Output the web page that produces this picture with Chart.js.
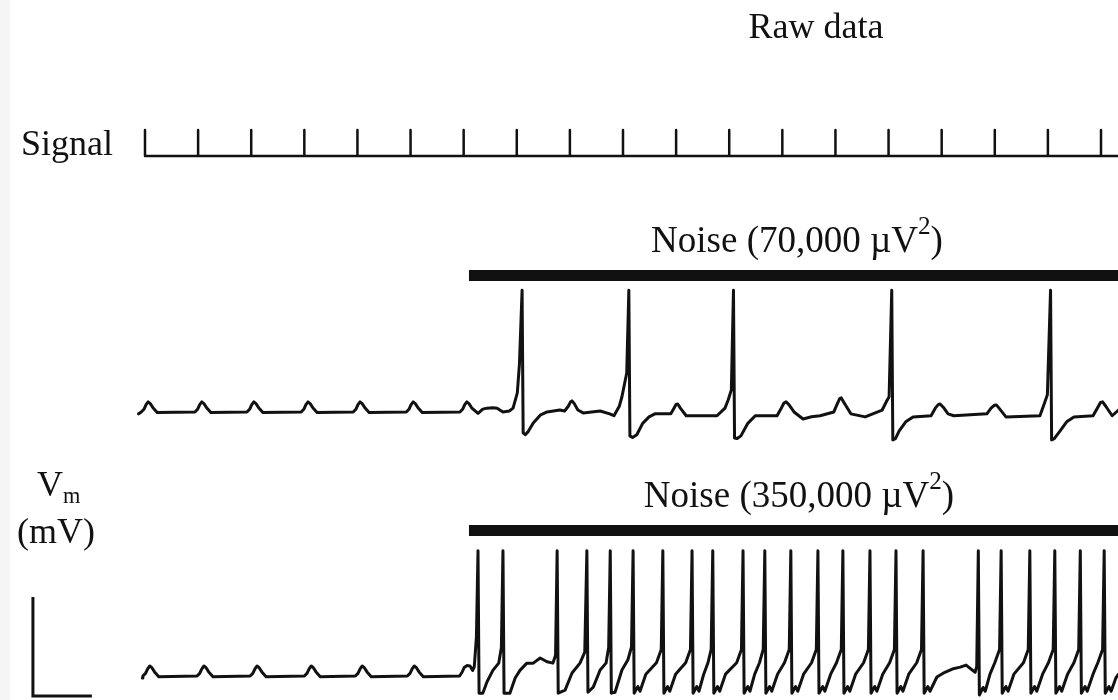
<!DOCTYPE html>
<html>
<head>
<meta charset="utf-8">
<script src="https://cdn.jsdelivr.net/npm/chart.js@4.4.1/dist/chart.umd.min.js"></script>
<style>
  html, body { margin: 0; padding: 0; background: #fff; overflow: hidden; }
  #wrap { position: relative; width: 1118px; height: 700px; }
  #strip { position: absolute; left: 0; top: 0; width: 10px; height: 700px; background: #f5f5f5; }
  canvas { position: absolute; left: 0; top: 0; }
  .lbl { position: absolute; font-family: "Liberation Serif", "DejaVu Serif", serif; font-size: 36px;
         line-height: 36px; color: #111; white-space: nowrap; }
  .lbl sup { font-size: 0.68em; line-height: 0; vertical-align: 0.7em; }
  .lbl sub { font-size: 0.62em; line-height: 0; vertical-align: -0.3em; }
  .ctr { transform: translateX(-50%); }
  .big { font-size: 37px; }
</style>
</head>
<body>
<div id="wrap">
  <div id="strip"></div>
  <canvas id="myChart" width="1118" height="700"></canvas>
  <div class="lbl ctr" style="left:816px; top:8px;">Raw data</div>
  <div class="lbl" style="left:21px; top:125px;">Signal</div>
  <div class="lbl ctr big" style="left:797px; top:222px;">Noise (70,000 µV<sup>2</sup>)</div>
  <div class="lbl ctr big" style="left:799px; top:477px;">Noise (350,000 µV<sup>2</sup>)</div>
  <div class="lbl" style="left:37px; top:466px;">V<sub>m</sub></div>
  <div class="lbl" style="left:17px; top:513px;">(mV)</div>
</div>
<script>
// time axis in ms, voltage in mV
var signalPulses = [0, 100, 200, 300, 400, 500, 600, 700, 800, 900, 1000, 1100, 1200, 1300, 1400, 1500, 1600, 1700, 1800];
var noiseStart = 610;
var noiseEnd = 1833;

// Vm trace, noise 70,000 uV^2  [t, Vm]
var trace70 = [
  [-12,-66],
  [-7,-65],[-2,-63.6],[2,-61.2],[6,-59.7],[10,-60.6],[15,-62.8],[23,-65.3],
  [94,-65],[99,-63.6],[103,-61.2],[107,-59.7],[111,-60.6],[116,-62.8],[124,-65.3],
  [192,-65],[197,-63.6],[201,-61.2],[205,-59.7],[209,-60.6],[214,-62.8],[222,-65.3],
  [294,-65],[299,-63.6],[303,-61.2],[307,-59.7],[311,-60.6],[316,-62.8],[324,-65.3],
  [392,-65],[397,-63.6],[401,-61.2],[405,-59.7],[409,-60.6],[414,-62.8],[422,-65.3],
  [492,-65],[497,-63.6],[501,-61.2],[505,-59.7],[509,-60.6],[514,-62.8],[522,-65.3],
  [593,-65],[598,-63.6],[602,-61.2],[606,-59.7],[610,-60.6],[615,-62.8],[627,-65.8],
  [636,-63.5],[644,-63],[655,-62.8],[663,-63],[674,-65],[686,-64.5],[693,-63],[698,-58],[701,-55],[705,-40],
  [710,-1],[712,-76],[716,-77],[721,-75.5],[731,-70.8],[745,-66.5],[757,-65],[781,-64],
  [790,-64.5],[797,-62],[801,-59.8],[804,-59.2],[808,-60.5],[815,-64],[825,-65.5],[857,-64.5],[875,-66],[883,-67],[893,-62],[898,-57],[907,-44.5],
  [911,-1],[913,-77.6],[918,-78.5],[926,-77],[937,-71],[949,-67.6],[960,-66],[990,-66],[996,-63],[1000,-61],[1003,-60.8],[1008,-63],[1019,-67],
  [1077,-67],[1092,-63],[1098,-58.7],[1104,-53.4],
  [1108,-1],[1110,-78.7],[1115,-79],[1122,-77.6],[1135,-71],[1149,-67],[1190,-67],[1198,-63],[1203,-60.3],[1207,-59.7],[1212,-61],[1222,-65],
  [1239,-68.7],[1255,-67.5],[1271,-67],[1297,-65],[1303,-61],[1308,-58],[1311,-57.6],[1316,-60],[1329,-66],[1356,-67.6],[1388,-64],[1397,-59],[1401,-57.1],
  [1406,-1],[1408,-79.7],[1413,-79],[1420,-75],[1433,-70],[1446,-67.6],[1480,-67],[1488,-63],[1494,-61],[1497,-60.8],[1503,-62.5],[1512,-66],
  [1523,-67],[1585,-66],[1593,-63],[1599,-61.5],[1603,-61.3],[1608,-63],[1621,-67.6],[1685,-67],[1694,-60],[1699,-56],
  [1705,-1],[1707,-79.7],[1712,-79],[1723,-75],[1736,-70],[1749,-67.6],[1785,-67],[1793,-63],[1799,-60],[1803,-59.7],[1809,-62],[1821,-67],[1833,-64]
];

// Vm trace, noise 350,000 uV^2  [t, Vm]
var trace350 = [
  [-5,-66],
  [-4,-65],[1,-63.6],[5,-61.2],[9,-59.7],[13,-60.6],[18,-62.8],[26,-65.3],
  [98,-65],[103,-63.6],[107,-61.2],[111,-59.7],[115,-60.6],[120,-62.8],[128,-65.3],
  [198,-65],[203,-63.6],[207,-61.2],[211,-59.7],[215,-60.6],[220,-62.8],[228,-65.3],
  [300,-65],[305,-63.6],[309,-61.2],[313,-59.7],[317,-60.6],[322,-62.8],[330,-65.3],
  [396,-65],[401,-63.6],[405,-61.2],[409,-59.7],[413,-60.6],[418,-62.8],[426,-65.3],
  [494,-65],[499,-63.6],[503,-61.2],[507,-59.7],[511,-60.6],[516,-62.8],[524,-65.3],
  [592,-65],[597,-63],[601,-60.5],[606,-59.5],[612,-59.7],[617,-62],[620,-60],[624,-44.5],
  [627,1],[629,-74],[636,-74],[644,-68],[655,-62],[666,-58.2],[671,-50],
  [674,1],[676,-74],[687,-74],[697,-66],[706,-62],[719,-58.2],[731,-58.2],[744,-55.5],[757,-57.5],[768,-58.2],[773,-54],
  [776,1],[778,-74],[791,-72.4],[804,-63.4],[819,-58.2],[828,-52.4],
  [832,1],[834,-73.5],[844,-70.8],[857,-61.8],[868,-58.2],[873,-50],
  [876,1],[878,-74],[885,-73.5],[898,-61.8],[909,-56.6],[916,-49.7],
  [919,1],[921,-74],[928,-70.5],[932,-73],[943,-64],[963,-58],[972,-51],
  [975,1],[977,-74],[984,-70.5],[988,-73],[999,-64],[1018,-58],[1027,-51],
  [1030,1],[1032,-74],[1039,-70.5],[1043,-73],[1052,-64],[1060,-58],[1066,-51],
  [1069,1],[1071,-74],[1078,-70.5],[1082,-73],[1093,-64],[1114,-58],[1123,-51],
  [1126,1],[1128,-74],[1135,-70.5],[1139,-73],[1148,-64],[1157,-58],[1164,-51],
  [1167,1],[1169,-74],[1176,-70.5],[1180,-73],[1191,-64],[1204,-58],[1213,-51],
  [1216,1],[1218,-74],[1225,-70.5],[1229,-73],[1240,-64],[1255,-58],[1264,-51],
  [1267,1],[1269,-74],[1276,-70.5],[1280,-73],[1291,-64],[1302,-58],[1311,-51],
  [1314,1],[1316,-74],[1323,-70.5],[1327,-73],[1338,-64],[1353,-58],[1362,-51],
  [1365,1],[1367,-74],[1374,-70.5],[1378,-73],[1389,-64],[1402,-58],[1411,-51],
  [1414,1],[1416,-74],[1423,-70.5],[1427,-73],[1438,-64],[1453,-58],[1462,-51],
  [1465,1],[1467,-74],[1474,-70.5],[1478,-73],[1491,-65.5],[1506,-63],[1520,-61.3],[1535,-60.3],[1546,-59.2],[1553,-60.8],[1563,-63],[1566,-60],
  [1569,1],[1571,-75],[1578,-71],[1582,-73],[1591,-64],[1600,-58],[1609,-51],
  [1612,1],[1614,-74],[1621,-70.5],[1625,-73],[1636,-64],[1654,-58],[1663,-51],
  [1666,1],[1668,-74],[1675,-70.5],[1679,-73],[1690,-64],[1701,-58],[1710,-51],
  [1713,1],[1715,-74],[1722,-70.5],[1726,-73],[1737,-64],[1749,-58],[1758,-51],
  [1761,1],[1763,-74],[1770,-70.5],[1774,-73],[1785,-64],[1794,-58],[1803,-51],
  [1806,1],[1808,-74],[1815,-70.5],[1819,-73],[1828,-66],[1833,-64]
];

// calibration bar: 100 ms x 50 mV
var scaleBar = [[-211,-23.4],[-211,-75.5],[-100,-75.5]];

var signalData = [];
signalPulses.forEach(function(t) {
  signalData.push([t, 0], [t, 1], [t, 0]);
});
signalData.splice(0, 1);
signalData.push([noiseEnd, 0]);

var ctx = document.getElementById('myChart').getContext('2d');

var common = {
  borderColor: '#111',
  pointRadius: 0,
  fill: false,
  tension: 0,
  borderJoinStyle: 'round',
  borderCapStyle: 'round'
};

var data = {
  datasets: [
    Object.assign({}, common, { label: 'Signal', data: signalData, yAxisID: 'ySig', borderWidth: 2.5 }),
    Object.assign({}, common, { label: 'Vm 70,000', data: trace70, yAxisID: 'y70', borderWidth: 3 }),
    Object.assign({}, common, { label: 'Noise 70,000', data: [[noiseStart, 6.8], [noiseEnd, 6.8]], yAxisID: 'y70', borderWidth: 11, borderCapStyle: 'butt' }),
    Object.assign({}, common, { label: 'Vm 350,000', data: trace350, yAxisID: 'y350', borderWidth: 3 }),
    Object.assign({}, common, { label: 'Noise 350,000', data: [[noiseStart, 11.6], [noiseEnd, 11.6]], yAxisID: 'y350', borderWidth: 11, borderCapStyle: 'butt' }),
    Object.assign({}, common, { label: 'Scale', data: scaleBar, yAxisID: 'y350', borderWidth: 3, borderCapStyle: 'butt', borderJoinStyle: 'miter' })
  ]
};

var options = {
  responsive: false,
  animation: false,
  devicePixelRatio: 1,
  layout: { padding: 0 },
  plugins: { legend: { display: false }, tooltip: { enabled: false }, title: { display: false } },
  scales: {
    x: { type: 'linear', min: -273, max: 1832, display: false },
    ySig: { type: 'linear', min: -20.92, max: 6, display: false },
    y70: { type: 'linear', min: -216.6, max: 151.8, display: false },
    y350: { type: 'linear', min: -77.6, max: 290.8, display: false }
  }
};

var myChart = new Chart(ctx, {
  type: 'line',
  data: data,
  options: options
});
</script>
</body>
</html>
